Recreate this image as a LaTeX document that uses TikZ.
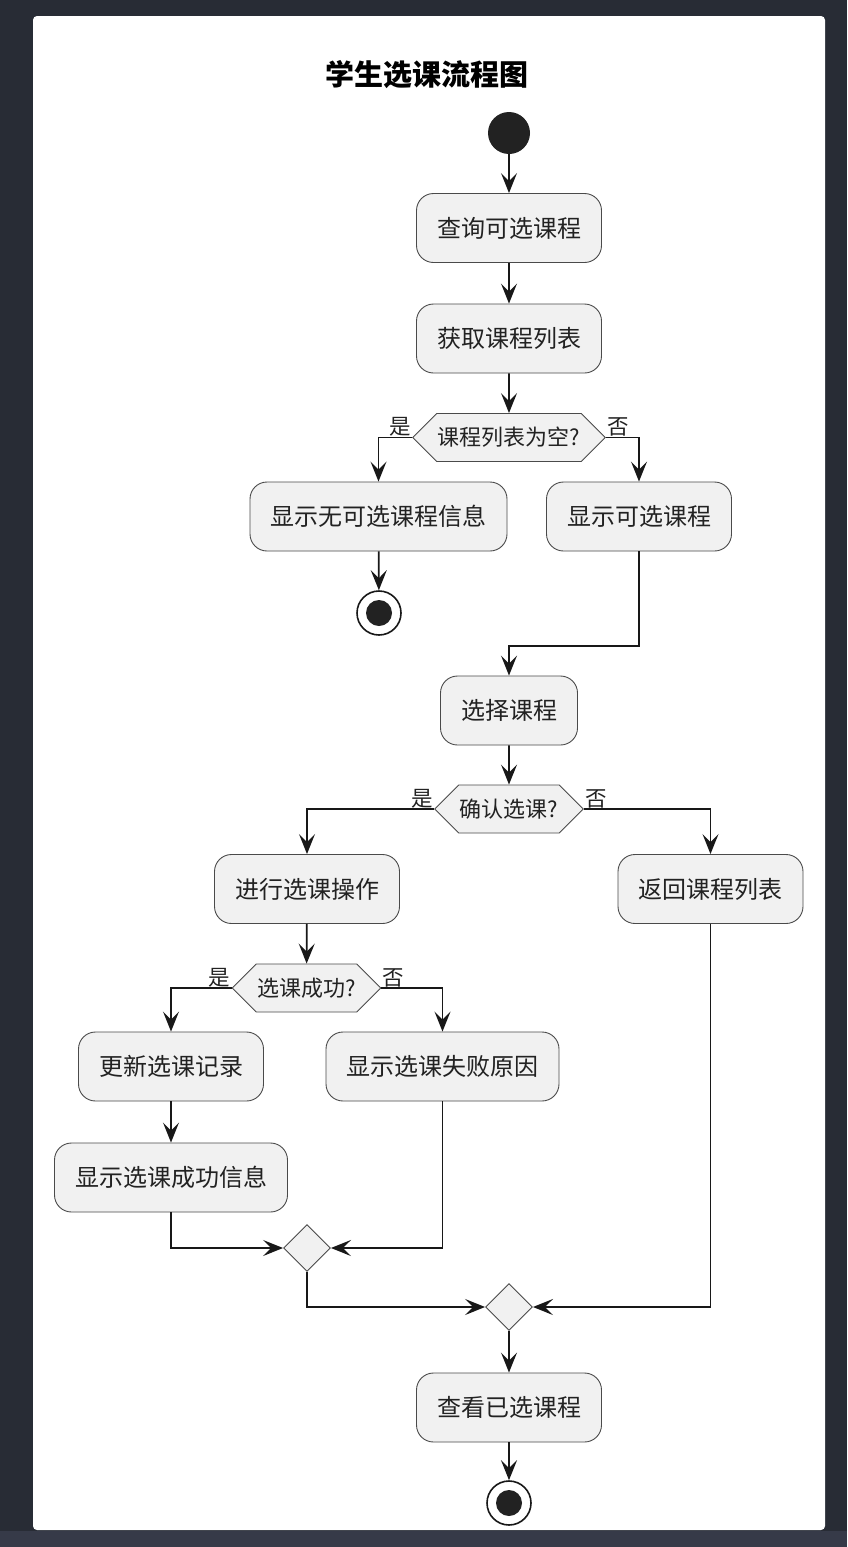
\documentclass[tikz,border=0pt]{standalone}
\usepackage{fontspec}
\setmainfont{Noto Sans CJK SC}
\usetikzlibrary{arrows.meta,calc,shapes.geometric,shapes.symbols}
\definecolor{bgdark}{HTML}{282C35}
\definecolor{bgstrip}{HTML}{363A48}
\definecolor{boxfill}{HTML}{F1F1F1}
\definecolor{ink}{HTML}{181818}
\definecolor{edgec}{HTML}{4A4A4A}
\definecolor{txt}{HTML}{222222}
\begin{document}
\begin{tikzpicture}[x=1pt,y=-1pt,
  actbox/.style={draw=edgec, line width=0.9pt, fill=boxfill, rounded corners=17pt,
    minimum height=69pt, inner xsep=20.5pt, inner ysep=0pt,
    font=\fontsize{24}{27}\selectfont, text=txt},
  hexc/.style={shape=signal, signal to=west and east, signal pointer angle=90,
    draw=edgec, line width=0.9pt, fill=boxfill, minimum height=48pt,
    inner xsep=1pt, inner ysep=0pt, font=\fontsize{22}{25}\selectfont, text=txt},
  merge/.style={shape=diamond, draw=edgec, line width=0.9pt, fill=boxfill,
    minimum width=47pt, minimum height=47pt, inner sep=0pt},
  startc/.style={circle, fill=txt, minimum size=42pt, inner sep=0pt},
  endc/.style={circle, draw=ink, line width=1.6pt, fill=white, minimum size=44pt, inner sep=0pt,
    path picture={\fill[txt] (path picture bounding box.center) circle (13pt);}},
  flow/.style={draw=ink, line width=1.7pt, -{Stealth[length=20pt,width=16pt,inset=8pt]}},
  lbl/.style={font=\fontsize{21.5}{24}\selectfont, text=txt, inner sep=1pt}
]
\useasboundingbox (0,0) rectangle (847,1547);
\fill[bgdark] (0,0) rectangle (847,1547);
\fill[white, rounded corners=4pt] (33,16) rectangle (825,1530);
\fill[bgstrip] (0,1531) rectangle (847,1547);

\node[font=\fontsize{29}{33}\selectfont\bfseries, text=black] (title) at (427,75) {学生选课流程图};

\node[startc] (start) at (509,133) {};
\node[actbox] (b1) at (509,228) {查询可选课程};
\node[actbox] (b2) at (509,338.5) {获取课程列表};
\node[hexc] (h1) at (509,437.5) {课程列表为空?};
\node[actbox] (b3) at (378.5,516.5) {显示无可选课程信息};
\node[actbox] (b4) at (639,516.5) {显示可选课程};
\node[endc] (end1) at (379,613) {};
\node[actbox] (b5) at (509,710.5) {选择课程};
\node[hexc] (h2) at (509,809) {确认选课?};
\node[actbox] (b6) at (307,889) {进行选课操作};
\node[actbox] (b7) at (710.5,889) {返回课程列表};
\node[hexc] (h3) at (306.5,988) {选课成功?};
\node[actbox] (b8) at (171,1066.5) {更新选课记录};
\node[actbox] (b9) at (442.5,1066.5) {显示选课失败原因};
\node[actbox] (b10) at (171,1177.5) {显示选课成功信息};
\node[merge] (d1) at (307,1248) {};
\node[merge] (d2) at (509,1307) {};
\node[actbox] (b11) at (509,1407.5) {查看已选课程};
\node[endc] (end2) at (509,1503) {};

\node[lbl, anchor=south east] (y1) at (h1.west) {是};
\node[lbl, anchor=south west] (n1) at (h1.east) {否};
\node[lbl, anchor=south east] (y2) at (h2.west) {是};
\node[lbl, anchor=south west] (n2) at (h2.east) {否};
\node[lbl, anchor=south east] (y3) at (h3.west) {是};
\node[lbl, anchor=south west] (n3) at (h3.east) {否};

\coordinate (j1) at (509,646);

\draw[flow] (start) -- (b1);
\draw[flow] (b1) -- (b2);
\draw[flow] (b2) -- (h1);
\draw[flow] (h1.west) -| (b3.north);
\draw[flow] (h1.east) -| (b4.north);
\draw[flow] (b3) -- (end1);
\draw[flow] (b4.south) |- (j1) -- (b5.north);
\draw[flow] (b5) -- (h2);
\draw[flow] (h2.west) -| (b6.north);
\draw[flow] (h2.east) -| (b7.north);
\draw[flow] (b6) -- (h3);
\draw[flow] (h3.west) -| (b8.north);
\draw[flow] (h3.east) -| (b9.north);
\draw[flow] (b8) -- (b10);
\draw[flow] (b10.south) |- (d1.west);
\draw[flow] (b9.south) |- (d1.east);
\draw[flow] (d1.south) |- (d2.west);
\draw[flow] (b7.south) |- (d2.east);
\draw[flow] (d2) -- (b11);
\draw[flow] (b11) -- (end2);
\end{tikzpicture}
\end{document}
